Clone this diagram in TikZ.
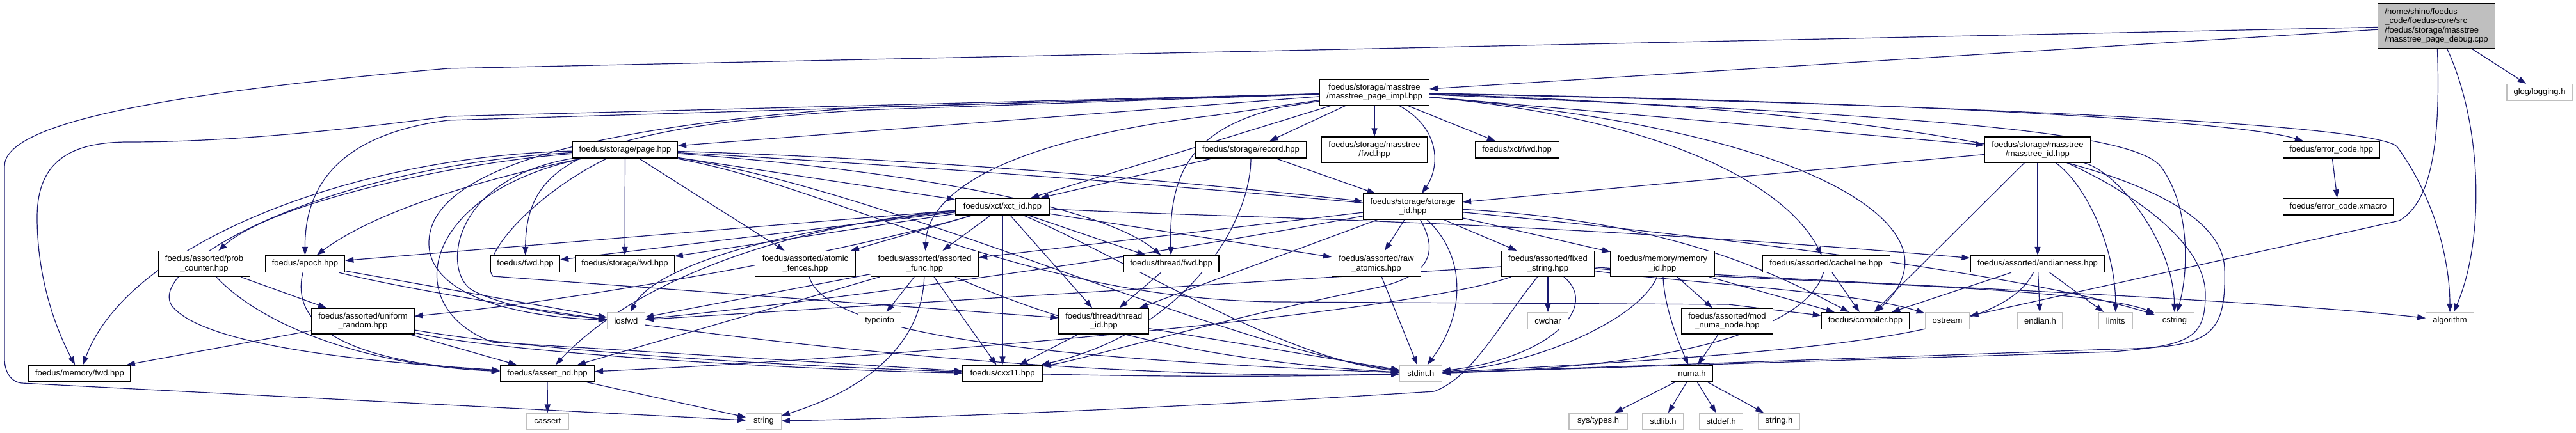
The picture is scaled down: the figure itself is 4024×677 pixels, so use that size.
\documentclass[tikz,border=0pt]{standalone}
\usepackage{fontspec}
\newfontfamily\dx{Liberation Sans}
\usetikzlibrary{arrows.meta}
\pgfdeclarelayer{bg}
\pgfsetlayers{bg,main}
\definecolor{edgec}{HTML}{191970}
\definecolor{extc}{HTML}{BFBFBF}
\definecolor{rootc}{HTML}{BFBFBF}
\tikzset{
 nb/.style={draw=black, line width=1.2pt, fill=white, font=\dx\fontsize{13}{14.5}\selectfont, inner sep=0pt, minimum height=26pt, align=center},
 ext/.style={nb, draw=extc},
 dep/.style={draw=edgec, line width=1.2pt, -{Triangle[length=13pt,width=9pt]}},
}
\begin{document}
\begin{tikzpicture}[x=1pt,y=-1pt]
\path[use as bounding box] (0,0) rectangle (4024,677);
% nodes
\node[nb, minimum width=183pt, minimum height=70pt, fill=rootc, align=left] (root) at (3806,40.5) {/home/shino/foedus\\\_code/foedus-core/src\\/foedus/storage/masstree\\/masstree\_page\_debug.cpp};
\node[ext, minimum width=102pt] (glog) at (3967,144.5) {glog/logging.h};
\node[nb, minimum width=171pt, minimum height=40pt] (pimpl) at (2147,144.3) {foedus/storage/masstree\\/masstree\_page\_impl.hpp};
\node[nb, minimum width=164pt] (page) at (976.5,234) {foedus/storage/page.hpp};
\node[nb, minimum width=173pt] (record) at (1954,234) {foedus/storage/record.hpp};
\node[nb, minimum width=166pt, minimum height=40pt] (mfwd) at (2147,234) {foedus/storage/masstree\\/fwd.hpp};
\node[nb, minimum width=131pt] (xfwd) at (2369.6,234) {foedus/xct/fwd.hpp};
\node[nb, minimum width=166pt, minimum height=40pt] (mid) at (3183,234) {foedus/storage/masstree\\/masstree\_id.hpp};
\node[nb, minimum width=150.6pt] (ec) at (3641.7,234) {foedus/error\_code.hpp};
\node[nb, minimum width=172pt] (ecx) at (3652.5,323) {foedus/error\_code.xmacro};
\node[nb, minimum width=155pt, minimum height=40pt] (sid) at (2207,323) {foedus/storage/storage\\\_id.hpp};
\node[nb, minimum width=147pt] (xid) at (1566,323) {foedus/xct/xct\_id.hpp};
\node[nb, minimum width=143pt, minimum height=40pt] (prob) at (319,412.5) {foedus/assorted/prob\\\_counter.hpp};
\node[nb, minimum width=124.5pt] (epoch) at (476.5,412.5) {foedus/epoch.hpp};
\node[nb, minimum width=108pt] (fwd) at (820.5,412.5) {foedus/fwd.hpp};
\node[nb, minimum width=154.5pt] (sfwd) at (976,412.5) {foedus/storage/fwd.hpp};
\node[nb, minimum width=157.6pt, minimum height=40pt] (fences) at (1258,412.5) {foedus/assorted/atomic\\\_fences.hpp};
\node[nb, minimum width=168pt, minimum height=40pt] (afunc) at (1444.5,412.5) {foedus/assorted/assorted\\\_func.hpp};
\node[nb, minimum width=148.6pt] (tfwd) at (1829.6,412.5) {foedus/thread/fwd.hpp};
\node[nb, minimum width=139pt, minimum height=40pt] (rawat) at (2150,412.5) {foedus/assorted/raw\\\_atomics.hpp};
\node[nb, minimum width=145pt, minimum height=40pt] (fixstr) at (2418,412.5) {foedus/assorted/fixed\\\_string.hpp};
\node[nb, minimum width=162pt, minimum height=40pt] (memid) at (2597,412.5) {foedus/memory/memory\\\_id.hpp};
\node[nb, minimum width=199pt] (cacheline) at (2852.6,412.5) {foedus/assorted/cacheline.hpp};
\node[nb, minimum width=210pt] (endian) at (3183,412.5) {foedus/assorted/endianness.hpp};
\node[nb, minimum width=160pt, minimum height=40pt] (urand) at (567,502) {foedus/assorted/uniform\\\_random.hpp};
\node[ext, minimum width=59pt] (iosfwd) at (978,501.5) {iosfwd};
\node[ext, minimum width=67pt] (typeinfo) at (1374,501.5) {typeinfo};
\node[nb, minimum width=140.6pt, minimum height=40pt] (tid) at (1724.3,502) {foedus/thread/thread\\\_id.hpp};
\node[ext, minimum width=62.5pt] (cwchar) at (2418,501.5) {cwchar};
\node[nb, minimum width=143pt, minimum height=40pt] (modnuma) at (2698,502) {foedus/assorted/mod\\\_numa\_node.hpp};
\node[nb, minimum width=137.5pt] (compiler) at (2914,501.5) {foedus/compiler.hpp};
\node[ext, minimum width=69.6pt] (ostream) at (3042,501.5) {ostream};
\node[ext, minimum width=70pt] (endianh) at (3187,501.5) {endian.h};
\node[ext, minimum width=53pt] (limits) at (3304.7,501.5) {limits};
\node[ext, minimum width=61.7pt] (cstring) at (3397,501.5) {cstring};
\node[ext, minimum width=74.5pt] (algorithm) at (3827,501.5) {algorithm};
\node[nb, minimum width=159pt] (memfwd) at (124.5,584) {foedus/memory/fwd.hpp};
\node[nb, minimum width=147pt] (assert) at (855,584) {foedus/assert\_nd.hpp};
\node[nb, minimum width=124.5pt] (cxx11) at (1566,584) {foedus/cxx11.hpp};
\node[ext, minimum width=65.6pt] (stdint) at (2219.4,584) {stdint.h};
\node[nb, minimum width=65.6pt] (numa) at (2643,584) {numa.h};
\node[ext, minimum width=65pt, minimum height=25pt] (cassert) at (855.4,658.5) {cassert};
\node[ext, minimum width=54.5pt, minimum height=25pt] (string) at (1193,658.5) {string};
\node[ext, minimum width=91pt, minimum height=25pt] (systypes) at (2496.5,658.5) {sys/types.h};
\node[ext, minimum width=64pt, minimum height=25pt] (stdlib) at (2598,658.5) {stdlib.h};
\node[ext, minimum width=68pt, minimum height=25pt] (stddef) at (2688.7,658.5) {stddef.h};
\node[ext, minimum width=65.6pt, minimum height=25pt] (stringh) at (2779,658.5) {string.h};
\begin{pgfonlayer}{bg}
\fill[white] (0,0) rectangle (4024,677);
% root
\draw[dep] (root) -- (pimpl);
\draw[dep] (root) -- (glog);
\draw[dep] (root) .. controls (3814,250) and (3790,320) .. (3748,345) -- (ostream);
\draw[dep] (root) .. controls (3880,200) and (3880,380) .. (algorithm);
\draw[dep] (root) -- (700,107) .. controls (200,150) and (7,200) .. (7,260) -- (7,560) .. controls (7,585) and (20,598) .. (34,599) -- (string);
% page_impl
\draw[dep] (pimpl) -- (page);
\draw[dep] (pimpl) -- (record);
\draw[dep] (pimpl) -- (mfwd);
\draw[dep] (pimpl) -- (xfwd);
\draw[dep] (pimpl) .. controls (2250,200) and (2250,260) .. (sid);
\draw[dep] (pimpl) -- (mid);
\draw[dep] (pimpl) .. controls (3000,160) and (3500,190) .. (ec);
\draw[dep] (pimpl) -- (xid);
\draw[dep] (pimpl) -- (700,182) .. controls (450,215) and (300,222) .. (200,222) .. controls (100,222) and (58,260) .. (58,340) .. controls (58,440) and (90,520) .. (memfwd);
\draw[dep] (pimpl) -- (700,188) .. controls (570,205) and (476,260) .. (epoch);
\draw[dep] (pimpl) -- (1350,172) .. controls (900,200) and (822,260) .. (fwd);
\draw[dep] (pimpl) -- (1350,168) .. controls (820,205) and (670,290) .. (670,380) .. controls (670,460) and (800,495) .. (iosfwd);
\draw[dep] (pimpl) -- (1900,180) .. controls (1600,215) and (1450,290) .. (afunc);
\draw[dep] (pimpl) -- (2000,168) .. controls (1870,200) and (1825,260) .. (tfwd);
\draw[dep] (pimpl) .. controls (2600,185) and (2790,290) .. (cacheline);
\draw[dep] (pimpl) .. controls (2800,200) and (2990,330) .. (2975,420) .. controls (2970,450) and (2950,470) .. (compiler);
\draw[dep] (pimpl) .. controls (3100,165) and (3720,195) .. (3745,230) .. controls (3810,320) and (3827,420) .. (algorithm);
\draw[dep] (pimpl) .. controls (3000,180) and (3330,205) .. (3375,260) .. controls (3420,320) and (3420,420) .. (cstring);
\draw[dep] (pimpl) .. controls (3100,175) and (3470,280) .. (3475,420) .. controls (3478,530) and (3450,543) .. (3300,546) -- (stdint);
% page
\draw[dep] (page) -- (xid);
\draw[dep] (page) .. controls (1500,250) and (1900,290) .. (sid);
\draw[dep] (page) .. controls (700,255) and (420,320) .. (prob);
\draw[dep] (page) .. controls (800,270) and (600,320) .. (epoch);
\draw[dep] (page) .. controls (550,245) and (200,380) .. (memfwd);
\draw[dep] (page) -- (sfwd);
\draw[dep] (page) -- (fences);
\draw[dep] (page) .. controls (1400,265) and (1720,320) .. (tfwd);
\draw[dep] (page) .. controls (840,300) and (745,400) .. (770,432) -- (tid);
\draw[dep] (page) .. controls (700,280) and (690,430) .. (740,455) .. controls (800,485) and (900,495) .. (iosfwd);
\draw[dep] (page) .. controls (500,260) and (220,420) .. (270,480) .. controls (330,550) and (650,570) .. (assert);
\draw[dep] (page) .. controls (660,300) and (620,480) .. (770,535) -- (cxx11);
\draw[dep] (page) .. controls (1300,290) and (1600,470) .. (2000,472) -- (2700,476) -- (compiler);
\draw[dep] (page) .. controls (1800,280) and (3000,380) .. (cstring);
\draw[dep] (page) .. controls (1400,300) and (1900,540) .. (stdint);
% record
\draw[dep] (record) -- (xid);
\draw[dep] (record) -- (sid);
\draw[dep] (record) .. controls (1954,350) and (1850,520) .. (cxx11);
% masstree_id
\draw[dep] (mid) -- (sid);
\draw[dep] (mid) -- (endian);
\draw[dep] (mid) -- (compiler);
\draw[dep] (mid) .. controls (3260,290) and (3305,390) .. (limits);
\draw[dep] (mid) .. controls (3310,270) and (3395,380) .. (cstring);
\draw[dep] (mid) .. controls (3330,300) and (3445,380) .. (3445,460) .. controls (3445,530) and (3420,540) .. (3300,550) -- (stdint);
% error_code
\draw[dep] (ec) -- (ecx);
% storage_id
\draw[dep] (sid) -- (afunc);
\draw[dep] (sid) -- (rawat);
\draw[dep] (sid) -- (fixstr);
\draw[dep] (sid) -- (memid);
\draw[dep] (sid) .. controls (2290,400) and (2290,490) .. (stdint);
\draw[dep] (sid) -- (tid);
\draw[dep] (sid) .. controls (2245,390) and (2240,430) .. (2150,450) .. controls (1900,500) and (1700,560) .. (cxx11);
\draw[dep] (sid) .. controls (2600,345) and (2760,420) .. (compiler);
\draw[dep] (sid) .. controls (1800,400) and (1300,470) .. (iosfwd);
% xct_id
\draw[dep] (xid) -- (epoch);
\draw[dep] (xid) -- (fwd);
\draw[dep] (xid) -- (sfwd);
\draw[dep] (xid) -- (fences);
\draw[dep] (xid) -- (afunc);
\draw[dep] (xid) -- (tfwd);
\draw[dep] (xid) -- (tid);
\draw[dep] (xid) -- (rawat);
\draw[dep] (xid) .. controls (1900,340) and (2400,345) .. (endian);
\draw[dep] (xid) .. controls (1200,360) and (1020,420) .. (iosfwd);
\draw[dep] (xid) .. controls (1250,350) and (1000,430) .. (assert);
\draw[dep] (xid) -- (cxx11);
\draw[dep] (xid) .. controls (1750,400) and (2000,560) .. (stdint);
\draw[dep] (xid) .. controls (1300,400) and (900,470) .. (urand);
% prob_counter, epoch, uniform_random
\draw[dep] (prob) -- (urand);
\draw[dep] (prob) .. controls (400,500) and (550,570) .. (assert);
\draw[dep] (epoch) .. controls (455,500) and (520,565) .. (assert);
\draw[dep] (epoch) -- (iosfwd);
\draw[dep] (epoch) .. controls (700,470) and (1500,600) .. (stdint);
\draw[dep] (urand) -- (memfwd);
\draw[dep] (urand) -- (assert);
\draw[dep] (urand) .. controls (900,560) and (1600,600) .. (stdint);
\draw[dep] (urand) .. controls (800,555) and (1300,580) .. (cxx11);
% fences, assorted_func
\draw[dep] (fences) .. controls (1290,520) and (1600,560) .. (stdint);
\draw[dep] (afunc) -- (typeinfo);
\draw[dep] (afunc) .. controls (1440,540) and (1350,610) .. (string);
\draw[dep] (afunc) -- (cxx11);
\draw[dep] (afunc) .. controls (1600,480) and (1800,560) .. (stdint);
\draw[dep] (afunc) -- (iosfwd);
\draw[dep] (afunc) -- (assert);
% thread
\draw[dep] (tfwd) -- (tid);
\draw[dep] (tid) -- (cxx11);
\draw[dep] (tid) -- (stdint);
% raw_atomics, fixed_string
\draw[dep] (rawat) -- (stdint);
\draw[dep] (fixstr) -- (cwchar);
\draw[dep] (fixstr) .. controls (2500,480) and (2420,560) .. (stdint);
\draw[dep] (fixstr) .. controls (2340,510) and (2300,590) .. (2240,612) .. controls (1800,640) and (1400,655) .. (string);
\draw[dep] (fixstr) -- (iosfwd);
\draw[dep] (fixstr) .. controls (2200,490) and (1400,560) .. (assert);
\draw[dep] (fixstr) .. controls (2600,440) and (2900,455) .. (ostream);
\draw[dep] (fixstr) .. controls (2700,440) and (3250,445) .. (cstring);
\draw[dep] (fixstr) .. controls (2800,440) and (3500,465) .. (algorithm);
% memory_id, numa
\draw[dep] (memid) .. controls (2600,480) and (2620,530) .. (numa);
\draw[dep] (memid) -- (modnuma);
\draw[dep] (memid) .. controls (2560,500) and (2400,570) .. (stdint);
\draw[dep] (memid) -- (compiler);
\draw[dep] (modnuma) -- (numa);
\draw[dep] (numa) -- (systypes);
\draw[dep] (numa) -- (stdlib);
\draw[dep] (numa) -- (stddef);
\draw[dep] (numa) -- (stringh);
% cacheline, endianness
\draw[dep] (cacheline) -- (compiler);
\draw[dep] (cacheline) .. controls (2820,520) and (2600,575) .. (stdint);
\draw[dep] (endian) -- (compiler);
\draw[dep] (endian) -- (endianh);
\draw[dep] (endian) -- (limits);
\draw[dep] (endian) .. controls (3130,520) and (2900,548) .. (stdint);
% assert_nd
\draw[dep] (assert) -- (cassert);
\draw[dep] (assert) -- (string);
\end{pgfonlayer}
\end{tikzpicture}
\end{document}
